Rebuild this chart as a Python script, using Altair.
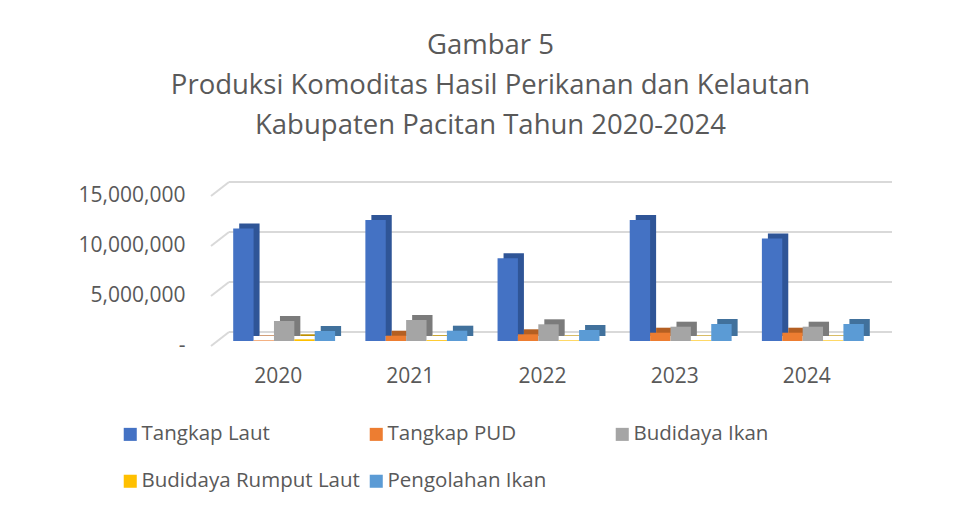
import altair as alt
import pandas as pd

years = ["2020", "2021", "2022", "2023", "2024"]
series = ["Tangkap Laut", "Tangkap PUD", "Budidaya Ikan", "Budidaya Rumput Laut", "Pengolahan Ikan"]
tangkap_laut = [11250000, 12100000, 8270000, 12100000, 10250000]
tangkap_pud = [60000, 530000, 670000, 830000, 830000]
budidaya_ikan = [2000000, 2100000, 1670000, 1430000, 1430000]
budidaya_rumput_laut = [170000, 80000, 60000, 60000, 60000]
pengolahan_ikan = [1000000, 1030000, 1100000, 1700000, 1700000]
y_ticks = [0, 5000000, 10000000, 15000000]

face_colors = ["#4472C4", "#ED7D31", "#A5A5A5", "#FFC000", "#5B9BD5"]
dark_colors = ["#2F5597", "#B45F22", "#7B7B7B", "#BF9000", "#41719C"]

values = [tangkap_laut, tangkap_pud, budidaya_ikan, budidaya_rumput_laut, pengolahan_ikan]
rows = []
for s, vals in zip(series, values):
    for y, v in zip(years, vals):
        rows.append({"year": y, "series": s, "value": v})
df = pd.DataFrame(rows)
grid_df = pd.DataFrame({"v": y_ticks})

FONT = "Open Sans"
GRAY = "#595959"
W = 661
PI, PO = 0.229, 0.115
STEP = W / (len(years) - PI + 2 * PO)
BW = STEP * (1 - PI)

x_enc = alt.X("year:N", sort=years,
              scale=alt.Scale(paddingInner=PI, paddingOuter=PO),
              axis=alt.Axis(title=None, domain=False, ticks=False, labelFontSize=21,
                            labelFont=FONT, labelColor=GRAY, labelPadding=24,
                            labelOffset=-6, labelAngle=0))
y_scale = alt.Scale(domain=[0, 15000000], nice=False)

back_grid = alt.Chart(grid_df).mark_rule(color="#D9D9D9", strokeWidth=2, yOffset=-9).encode(
    y=alt.Y("v:Q", scale=y_scale,
            axis=alt.Axis(title=None, domain=False, ticks=False, grid=False,
                          values=y_ticks, labelFontSize=21, labelFont=FONT,
                          labelColor=GRAY, labelPadding=33, labelOffset=4,
                          labelExpr="datum.value == 0 ? '-' : format(datum.value, ',')")),
    x=alt.value(11), x2=alt.value(674),
)

diag = alt.Chart(grid_df).transform_calculate(
    vf="datum.v - 500000", vb="datum.v + 900000"
).mark_rule(color="#D9D9D9", strokeWidth=2).encode(
    y=alt.Y("vf:Q", scale=y_scale), y2="vb:Q",
    x=alt.value(-7), x2=alt.value(11),
)

dark = alt.Chart(df).mark_bar(yOffset=-5).encode(
    x=x_enc,
    xOffset=alt.XOffset("series:N", sort=series,
                        scale=alt.Scale(paddingInner=0, paddingOuter=0, range=[6, BW + 6])),
    y=alt.Y("value:Q", scale=y_scale),
    color=alt.Color("series:N", sort=series,
                    scale=alt.Scale(domain=series, range=dark_colors), legend=None),
)

face = alt.Chart(df).mark_bar().encode(
    x=x_enc,
    xOffset=alt.XOffset("series:N", sort=series,
                        scale=alt.Scale(paddingInner=0, paddingOuter=0, range=[0, BW])),
    y=alt.Y("value:Q", scale=y_scale),
    color=alt.Color("series:N", sort=series,
                    scale=alt.Scale(domain=series, range=face_colors),
                    legend=alt.Legend(title=None, orient="none", legendX=-98, legendY=233,
                                      direction="horizontal",
                                      columns=3, gridAlign="all", columnPadding=6,
                                      rowPadding=26, symbolType="square", symbolSize=170,
                                      symbolStrokeWidth=0, labelFontSize=20.5, labelFont=FONT,
                                      labelColor=GRAY, labelOffset=1, labelLimit=400)),
)

chart = alt.layer(diag, back_grid, dark, face).resolve_scale(
    color="independent", xOffset="independent"
).properties(
    width=W, height=150,
    padding={"left": 210, "top": 183, "right": 60, "bottom": 163},
    autosize=alt.AutoSizeParams(type="none"),
    background="white",
    title=alt.TitleParams(
        text=["Gambar 5", "Produksi Komoditas Hasil Perikanan dan Kelautan",
              "Kabupaten Pacitan Tahun 2020-2024"],
        fontSize=27.5, font=FONT, color=GRAY, fontWeight="normal",
        anchor="middle", dx=-58, offset=42, lineHeight=40),
).configure_view(stroke=None)

chart.save("out.html", embed_options={"renderer": "svg", "actions": False})
